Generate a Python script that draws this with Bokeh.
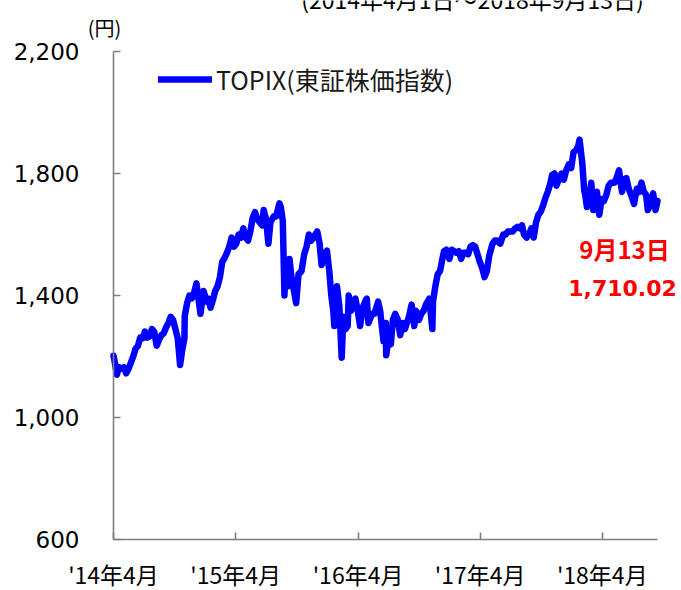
import numpy as np
import pandas as pd
from bokeh.plotting import figure
from bokeh.models import Range1d, FixedTicker, NumeralTickFormatter, Label, Legend, LegendItem
from bokeh.embed import file_html
from bokeh.resources import INLINE

# ---- data (TOPIX) ----
dates = [
 "2014-04-01","2014-04-04","2014-04-11","2014-04-17","2014-04-25","2014-05-02","2014-05-09","2014-05-16","2014-05-23","2014-05-30",
 "2014-06-06","2014-06-13","2014-06-20","2014-06-27","2014-07-04","2014-07-11","2014-07-18","2014-07-25","2014-08-01","2014-08-08",
 "2014-08-15","2014-08-22","2014-08-29","2014-09-05","2014-09-12","2014-09-19","2014-09-26","2014-10-03","2014-10-10","2014-10-17",
 "2014-10-24","2014-10-30","2014-10-31","2014-11-07","2014-11-14","2014-11-21","2014-11-28","2014-12-05","2014-12-12","2014-12-17",
 "2014-12-26","2015-01-05","2015-01-09","2015-01-16","2015-01-23","2015-01-30","2015-02-06","2015-02-13","2015-02-20","2015-02-27",
 "2015-03-06","2015-03-13","2015-03-20","2015-03-27","2015-04-03","2015-04-10","2015-04-17","2015-04-24","2015-05-01","2015-05-08",
 "2015-05-15","2015-05-22","2015-05-29","2015-06-05","2015-06-12","2015-06-19","2015-06-24","2015-07-01","2015-07-08","2015-07-14",
 "2015-07-24","2015-07-31","2015-08-10","2015-08-14","2015-08-20","2015-08-25","2015-08-28","2015-09-04","2015-09-09","2015-09-15",
 "2015-09-29","2015-10-06","2015-10-15","2015-10-23","2015-10-30","2015-11-06","2015-11-13","2015-11-20","2015-12-01","2015-12-08",
 "2015-12-14","2015-12-21","2015-12-30","2016-01-06","2016-01-12","2016-01-18","2016-01-21","2016-01-29","2016-02-05","2016-02-12",
 "2016-02-17","2016-02-24","2016-03-01","2016-03-04","2016-03-11","2016-03-18","2016-03-24","2016-03-31","2016-04-07","2016-04-15",
 "2016-04-22","2016-04-27","2016-05-02","2016-05-13","2016-05-20","2016-05-31","2016-06-06","2016-06-16","2016-06-23","2016-06-24",
 "2016-07-01","2016-07-08","2016-07-14","2016-07-21","2016-07-29","2016-08-05","2016-08-12","2016-08-19","2016-08-31","2016-09-08",
 "2016-09-16","2016-09-21","2016-09-30","2016-10-07","2016-10-14","2016-10-21","2016-10-31","2016-11-09","2016-11-11","2016-11-18",
 "2016-11-25","2016-12-02","2016-12-09","2016-12-14","2016-12-21","2016-12-30","2017-01-06","2017-01-13","2017-01-20","2017-01-27",
 "2017-02-03","2017-02-10","2017-02-17","2017-02-24","2017-03-03","2017-03-10","2017-03-17","2017-03-24","2017-03-31","2017-04-07",
 "2017-04-14","2017-04-21","2017-04-28","2017-05-08","2017-05-15","2017-05-22","2017-05-31","2017-06-09","2017-06-16","2017-06-23",
 "2017-06-30","2017-07-07","2017-07-14","2017-07-21","2017-07-28","2017-08-04","2017-08-10","2017-08-18","2017-08-25","2017-09-01",
 "2017-09-08","2017-09-15","2017-09-22","2017-09-29","2017-10-06","2017-10-13","2017-10-20","2017-10-27","2017-11-02","2017-11-09",
 "2017-11-15","2017-11-22","2017-11-30","2017-12-07","2017-12-14","2017-12-22","2017-12-29","2018-01-05","2018-01-12","2018-01-19",
 "2018-01-23","2018-01-31","2018-02-06","2018-02-09","2018-02-14","2018-02-21","2018-02-27","2018-03-05","2018-03-09","2018-03-16",
 "2018-03-23","2018-03-30","2018-04-06","2018-04-13","2018-04-20","2018-04-27","2018-05-08","2018-05-15","2018-05-21","2018-05-30",
 "2018-06-05","2018-06-12","2018-06-19","2018-06-26","2018-07-05","2018-07-13","2018-07-20","2018-07-27","2018-08-03","2018-08-10",
 "2018-08-15","2018-08-24","2018-08-31","2018-09-07","2018-09-13",
]
topix = [
 1203,1186,1140,1165,1160,1165,1145,1160,1180,1200,
 1226,1235,1262,1260,1282,1262,1266,1290,1280,1235,
 1255,1270,1276,1295,1310,1330,1320,1290,1260,1172,
 1225,1260,1333,1375,1400,1391,1410,1440,1380,1340,
 1415,1380,1390,1360,1385,1415,1430,1460,1510,1523,
 1540,1560,1590,1560,1570,1600,1590,1620,1590,1580,
 1610,1655,1673,1650,1640,1630,1680,1650,1570,1640,
 1660,1659,1702,1690,1645,1400,1500,1430,1520,1460,
 1375,1470,1480,1535,1560,1600,1580,1590,1610,1570,
 1500,1530,1547,1480,1400,1350,1300,1430,1365,1196,
 1330,1290,1300,1400,1350,1380,1390,1350,1300,1360,
 1380,1390,1310,1340,1340,1380,1350,1250,1310,1204,
 1260,1240,1320,1340,1320,1270,1310,1290,1330,1370,
 1300,1350,1320,1340,1350,1370,1390,1290,1380,1430,
 1470,1480,1520,1545,1550,1520,1550,1545,1540,1545,
 1520,1540,1540,1535,1560,1565,1560,1535,1510,1490,
 1460,1480,1530,1570,1580,1580,1570,1600,1600,1610,
 1610,1610,1620,1625,1620,1630,1600,1590,1600,1620,
 1590,1640,1665,1675,1695,1720,1740,1765,1795,1800,
 1760,1780,1800,1780,1810,1830,1818,1870,1875,1890,
 1911,1836,1744,1730,1690,1710,1770,1680,1720,1740,
 1665,1716,1710,1730,1760,1770,1770,1790,1810,1740,
 1780,1785,1750,1730,1700,1750,1740,1770,1740,1730,
 1680,1700,1735,1680,1710.02,
]
tick_dates = ["2014-04-01", "2015-04-01", "2016-04-01", "2017-04-01", "2018-04-01"]
tick_labels = ["'14年4月", "'15年4月", "'16年4月", "'17年4月", "'18年4月"]
y_ticks = [600, 1000, 1400, 1800, 2200]
y_min, y_max = 600, 2200
legend_label = "TOPIX(東証株価指数)"
period_label = "(2014年4月1日～2018年9月13日)"
unit_label = "(円)"
last_date_label = "9月13日"

def to_ms(ds):
    return pd.to_datetime(ds).values.astype("datetime64[ms]").astype("int64").astype(float)

x = to_ms(dates)
xt = to_ms(tick_dates)

# ---- layout (pixels) ----
W, H = 681, 590
PL, PR, PT, PB = 113, 657, 51, 539          # axis box inside the canvas
x0, x1 = x[0], x[-1]
xs = (x1 - x0) / (PR - PL)                   # ms per pixel
ys = (y_max - y_min) / (PB - PT)             # yen per pixel
def px_x(px): return x0 + (px - PL) * xs
def px_y(py): return y_min + (PB - py) * ys

p = figure(width=W, height=H, output_backend="svg", toolbar_location=None,
           x_range=Range1d(px_x(0), px_x(W)), y_range=Range1d(px_y(H), px_y(0)),
           min_border=0)
p.outline_line_color = None
p.xgrid.visible = False
p.ygrid.visible = False
p.background_fill_color = "white"

r = p.line(x, topix, line_color="#0000FF", line_width=6.5, line_join="round", line_cap="round")

axis_col = "#7F7F7F"
for ax in (p.xaxis[0], p.yaxis[0]):
    ax.axis_line_color = axis_col
    ax.axis_line_width = 1.6
    ax.major_tick_line_color = axis_col
    ax.major_tick_line_width = 1.6
    ax.major_tick_in = 7
    ax.major_tick_out = 0
    ax.minor_tick_line_color = None
    ax.major_label_text_color = "#000000"

p.xaxis.fixed_location = y_min
p.xaxis.bounds = (x0, x1)
p.xaxis.ticker = FixedTicker(ticks=list(xt))
p.xaxis.major_label_overrides = {float(v): s for v, s in zip(xt, tick_labels)}
p.xaxis.major_label_text_font = "Noto Sans CJK JP"
p.xaxis.major_label_text_font_size = "23px"
p.xaxis.major_label_standoff = 17

p.yaxis.fixed_location = x0
p.yaxis.bounds = (y_min, y_max)
p.yaxis.ticker = FixedTicker(ticks=y_ticks)
p.yaxis.formatter = NumeralTickFormatter(format="0,0")
p.yaxis.major_label_text_font = "DejaVu Sans"
p.yaxis.major_label_text_font_size = "23px"
p.yaxis.major_label_standoff = 34

legend = Legend(items=[LegendItem(label=legend_label, renderers=[r])],
                location=(158, H - 97), padding=0, margin=0, spacing=0,
                glyph_width=54, glyph_height=24, label_height=24, label_standoff=4,
                border_line_color=None, background_fill_alpha=0,
                label_text_font="Noto Sans CJK JP", label_text_font_size="25px",
                label_text_color="#1a1a1a")
p.add_layout(legend)

p.add_layout(Label(x=px_x(472), y=px_y(-2), text=period_label, text_font="Noto Sans CJK JP",
                   text_font_size="23px", text_align="center", text_baseline="middle",
                   text_color="#000000"))
p.add_layout(Label(x=px_x(104), y=px_y(27), text=unit_label, text_font="Noto Sans CJK JP",
                   text_font_size="20px", text_align="center", text_baseline="middle",
                   text_color="#000000"))
p.add_layout(Label(x=px_x(624), y=px_y(248), text=last_date_label, text_font="Noto Sans CJK JP",
                   text_font_style="bold", text_font_size="24px", text_align="center",
                   text_baseline="middle", text_color="#FF0000"))
p.add_layout(Label(x=px_x(622), y=px_y(287), text=f"{topix[-1]:,.2f}", text_font="DejaVu Sans",
                   text_font_style="bold", text_font_size="22px", text_align="center",
                   text_baseline="middle", text_color="#FF0000"))

open("out.html", "w").write(file_html(p, INLINE))
